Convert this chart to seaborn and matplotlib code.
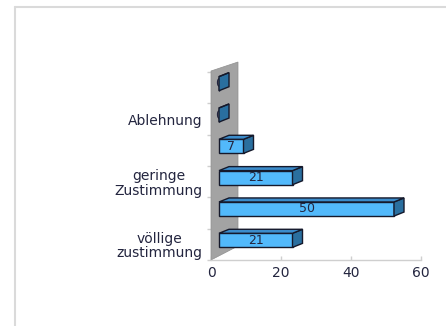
import matplotlib
matplotlib.use("Agg")
import matplotlib.pyplot as plt
import matplotlib.transforms as mtransforms
from matplotlib.patches import Polygon
from matplotlib.lines import Line2D
import numpy as np
import pandas as pd
import seaborn as sns

# Survey answers, listed from the bottom row upwards
row_keys = ["r1", "r2", "r3", "r4", "r5", "r6"]
tick_labels = ["völlige\nzustimmung", "", "geringe\nZustimmung", "", "Ablehnung", ""]
values = [21, 50, 21, 7, 0, 0]
x_ticks = [0, 20, 40, 60]

FRONT = "#52b9fb"
SIDE = "#2a6f9f"
TOP = "#3b8ccb"
EDGE = "#15192b"
TEXT = "#23253f"
WALL = "#a3a3a3"
GRID_GRAY = "#cfcfcf"

sns.set_style("white")
plt.rcParams["font.family"] = ["DejaVu Sans"]

df = pd.DataFrame({"key": row_keys, "value": values})

fig = plt.figure(figsize=(4.46, 3.26), dpi=100)
ax = fig.add_axes([211 / 446, 66 / 326, 210 / 446, 188 / 326])

sns.barplot(data=df, x="value", y="key", order=row_keys, orient="h",
            width=0.45, color=FRONT, saturation=1, edgecolor=EDGE,
            linewidth=1.0, ax=ax, zorder=3)

ax.set_xlim(0, 60)
ax.set_ylim(-0.5, len(row_keys) - 0.5)
ax.set_xlabel("")
ax.set_ylabel("")

# Bars sit a little in front of the back wall
px = 1.0 / fig.dpi
shift = mtransforms.ScaledTranslation(8 * px, 4 * px, fig.dpi_scale_trans)
bar_trans = ax.transData + shift
bars = list(ax.patches)
for p in bars:
    p.set_transform(bar_trans)

# Back wall of the 3D box
to_px = ax.transData
xl, yb = to_px.transform((0, -0.5))
_, yt = to_px.transform((0, len(row_keys) - 0.5))
wall = np.array([[xl, yb], [xl + 27, yb + 14], [xl + 27, yt + 10], [xl, yt + 1]]) * px
ax.add_patch(Polygon(wall, closed=True, transform=fig.dpi_scale_trans,
                     facecolor=WALL, edgecolor="#8f8f8f", linewidth=0.5,
                     clip_on=False, zorder=1))

# Depth faces and value labels of each bar
dx, dy = 10, 4
for p in bars:
    x0, y0 = p.get_x(), p.get_y()
    w, h = p.get_width(), p.get_height()
    (L, B), (R, T) = bar_trans.transform([(x0, y0), (x0 + w, y0 + h)])
    side = np.array([[R, B], [R + dx, B + dy], [R + dx, T + dy], [R, T]]) * px
    top = np.array([[L, T], [R, T], [R + dx, T + dy], [L + dx, T + dy]]) * px
    for pts, col in ((side, SIDE), (top, TOP)):
        ax.add_patch(Polygon(pts, closed=True, transform=fig.dpi_scale_trans,
                             facecolor=col, edgecolor=EDGE, linewidth=1.0,
                             clip_on=False, zorder=5))
    ax.text(x0 + w / 2, y0 + h / 2, f"{w:.0f}", transform=bar_trans,
            ha="center", va="center", fontsize=9, color=TEXT, zorder=4)

# Axes styling
for s in ("top", "right", "left"):
    ax.spines[s].set_visible(False)
ax.spines["bottom"].set_color(GRID_GRAY)
ax.spines["bottom"].set_linewidth(1.0)

ax.set_xticks(x_ticks)
ax.set_xticklabels([str(t) for t in x_ticks])
ax.tick_params(axis="x", bottom=True, direction="in", length=3, width=1,
               color=GRID_GRAY, labelsize=10, labelcolor=TEXT, pad=4)

ax.set_yticks(range(len(row_keys)))
ax.set_yticklabels(tick_labels, linespacing=1.05, ha="right",
                   multialignment="center")
ax.tick_params(axis="y", left=True, length=0, labelsize=10,
               labelcolor=TEXT, pad=6)
ax.set_yticks(np.arange(-0.5, len(row_keys), 1.0), minor=True)
ax.tick_params(axis="y", which="minor", left=True, direction="out", length=3,
               color=GRID_GRAY, width=1)

# Thin outer chart frame
fig.add_artist(Line2D([15 / 446, 15 / 446], [0, 1 - 7 / 326],
                      transform=fig.transFigure, color="#dadada", linewidth=1.5))
fig.add_artist(Line2D([15 / 446, 1], [1 - 7 / 326, 1 - 7 / 326],
                      transform=fig.transFigure, color="#dadada", linewidth=1.5))

fig.savefig("out.png", dpi=100, facecolor="white")
